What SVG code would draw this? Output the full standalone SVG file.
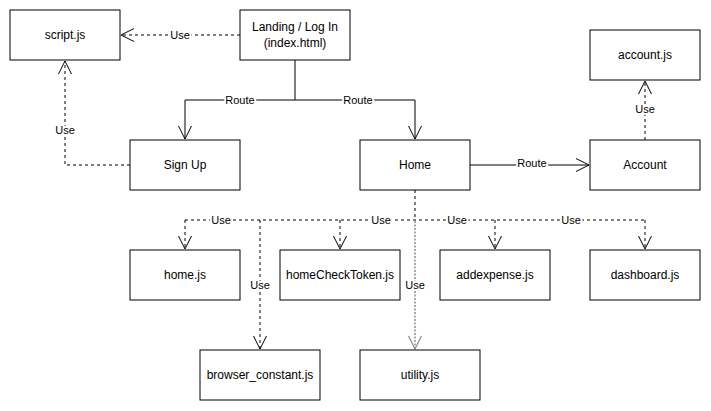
<svg xmlns="http://www.w3.org/2000/svg" width="711" height="411" viewBox="0 0 711 411">
<style>
.node rect{fill:#fff;stroke:#000;stroke-width:1}
.node text{font-family:"Liberation Sans",Arial,sans-serif;font-size:12px;fill:#000;text-anchor:middle;dominant-baseline:central}
.edge{fill:none;stroke:#000;stroke-width:1}
.dash{stroke-dasharray:3 3}
.gray{stroke:#8c8c8c;stroke-width:1.5;stroke-dasharray:2 1.5}
.lbl{font-family:"Liberation Sans",Arial,sans-serif;font-size:11px;fill:#000;text-anchor:middle;dominant-baseline:central;paint-order:stroke;stroke:#fff;stroke-width:4px;stroke-linejoin:round}
</style>
<defs>
<marker id="open" markerUnits="userSpaceOnUse" markerWidth="20" markerHeight="20" refX="0" refY="0" orient="auto" overflow="visible">
<path d="M-13,-6.5 L0,0 L-13,6.5" fill="none" stroke="#000" stroke-width="1"/>
</marker>
<marker id="openGray" markerUnits="userSpaceOnUse" markerWidth="20" markerHeight="20" refX="0" refY="0" orient="auto" overflow="visible">
<path d="M-13,-6.5 L0,0 L-13,6.5" fill="none" stroke="#8c8c8c" stroke-width="1.2"/>
</marker>
</defs>
<rect width="711" height="411" fill="#fff"/>
<g id="connectors">
<path class="edge dash" d="M240,35 L121,35" marker-end="url(#open)"/>
<path class="edge" d="M295,60 L295,100 L185,100 L185,139" marker-end="url(#open)"/>
<path class="edge" d="M295,100 L415,100 L415,139" marker-end="url(#open)"/>
<path class="edge dash" d="M130,165 L65,165 L65,61" marker-end="url(#open)"/>
<path class="edge" d="M470,165 L589,165" marker-end="url(#open)"/>
<path class="edge dash" d="M645,140 L645,81" marker-end="url(#open)"/>
<path class="edge gray" d="M415,221 L415,349" marker-end="url(#openGray)"/>
<path class="edge dash" d="M415,190 L415,220"/>
<path class="edge dash" d="M185,220 L645,220"/>
<path class="edge dash" d="M185,220 L185,249" marker-end="url(#open)"/>
<path class="edge dash" d="M340,220 L340,249" marker-end="url(#open)"/>
<path class="edge dash" d="M495,220 L495,249" marker-end="url(#open)"/>
<path class="edge dash" d="M645,220 L645,249" marker-end="url(#open)"/>
<path class="edge dash" d="M260,220 L260,349" marker-end="url(#open)"/>
<text class="lbl" x="180" y="35">Use</text>
<text class="lbl" x="240" y="100">Route</text>
<text class="lbl" x="358" y="100">Route</text>
<text class="lbl" x="65" y="130">Use</text>
<text class="lbl" x="532" y="163">Route</text>
<text class="lbl" x="645" y="109">Use</text>
<text class="lbl" x="221" y="220">Use</text>
<text class="lbl" x="381" y="220">Use</text>
<text class="lbl" x="457" y="220">Use</text>
<text class="lbl" x="571" y="220">Use</text>
<text class="lbl" x="260" y="285">Use</text>
<text class="lbl" x="415" y="285">Use</text>
</g>
<g id="script-js" class="node"><rect x="10" y="10" width="110" height="50"/><text x="65" y="35">script.js</text></g>
<g id="landing" class="node"><rect x="240" y="10" width="110" height="50"/><text x="295" y="27">Landing / Log In</text><text x="295" y="43">(index.html)</text></g>
<g id="account-js" class="node"><rect x="590" y="30" width="110" height="50"/><text x="645" y="55">account.js</text></g>
<g id="signup" class="node"><rect x="130" y="140" width="110" height="50"/><text x="185" y="165">Sign Up</text></g>
<g id="home" class="node"><rect x="360" y="140" width="110" height="50"/><text x="415" y="165">Home</text></g>
<g id="account" class="node"><rect x="590" y="140" width="110" height="50"/><text x="645" y="165">Account</text></g>
<g id="home-js" class="node"><rect x="130" y="250" width="110" height="50"/><text x="185" y="275">home.js</text></g>
<g id="homeCheckToken-js" class="node"><rect x="280" y="250" width="120" height="50"/><text x="340" y="275">homeCheckToken.js</text></g>
<g id="addexpense-js" class="node"><rect x="440" y="250" width="110" height="50"/><text x="495" y="275">addexpense.js</text></g>
<g id="dashboard-js" class="node"><rect x="590" y="250" width="110" height="50"/><text x="645" y="275">dashboard.js</text></g>
<g id="browser-constant-js" class="node"><rect x="200" y="350" width="120" height="50"/><text x="260" y="375">browser_constant.js</text></g>
<g id="utility-js" class="node"><rect x="360" y="350" width="120" height="50"/><text x="420" y="375">utility.js</text></g>
</svg>
